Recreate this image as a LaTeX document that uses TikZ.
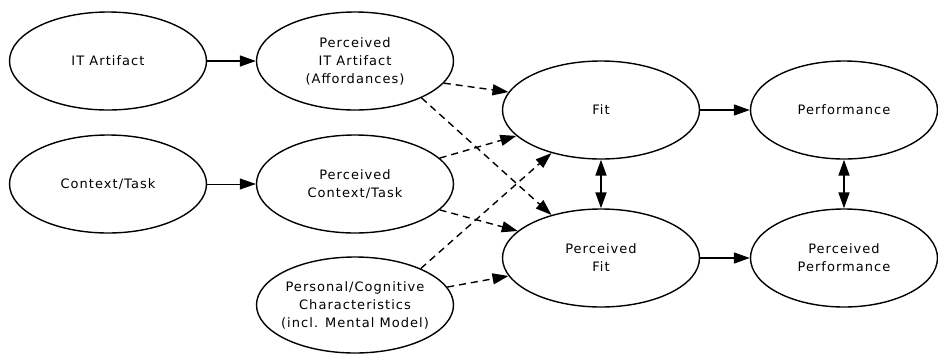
\documentclass[tikz,border=0pt]{standalone}
\usepackage{fontspec}
\setmainfont{DejaVu Sans}[LetterSpace=8]
\usetikzlibrary{arrows.meta,shapes.geometric,positioning}

\begin{document}
\begin{tikzpicture}[x=1pt, y=-1pt, on grid, node distance=123pt,
  state/.style={draw, ellipse, line width=1.4pt, minimum width=197pt, minimum height=98pt,
    inner sep=0pt, inner xsep=-8pt, align=center, font=\fontsize{13}{18}\selectfont},
  tip/.style={-{Triangle[length=16pt,width=11pt]}},
  solid link/.style={tip, line width=1.6pt},
  thin link/.style={tip, line width=0.8pt},
  dash link/.style={tip, line width=1.4pt, dash pattern=on 7pt off 5pt},
  both link/.style={{Triangle[length=16pt,width=11pt]}-{Triangle[length=16pt,width=11pt]}, line width=1.8pt}]
\useasboundingbox (0,0) rectangle (938,354);

% Sources
\node[state] (itart) at (108,61) {IT Artifact};
\node[state, below=of itart] (task) {Context/Task};

% Perceptions
\node[state, right=247pt of itart] (pitart) {Perceived\\IT Artifact\\(Affordances)};
\node[state, right=247pt of task] (ptask) {Perceived\\Context/Task};
\node[state, below=121pt of ptask, minimum height=96pt] (person) {Personal/Cognitive\\Characteristics\\(incl. Mental Model)};

% Fit
\node[state, below right=49pt and 246pt of pitart] (fit) {Fit};
\node[state, below=148pt of fit] (pfit) {Perceived\\Fit};

% Performance
\node[state, right=243pt of fit, minimum width=187pt] (perf) {Performance};
\node[state, right=243pt of pfit, minimum width=187pt] (pperf) {Perceived\\Performance};

% Arrows
\draw[solid link] (itart) -- (pitart);
\draw[thin link] (task) -- (ptask);
\draw[solid link] (fit) -- (perf);
\draw[solid link] (pfit) -- (pperf);
\draw[both link] (fit) -- (pfit);
\draw[both link] (perf) -- (pperf);

\draw[dash link] (pitart.-14) -- (fit.169);
\draw[dash link] (pitart.-29) -- (pfit.139);
\draw[dash link] (ptask.17) -- (fit.197);
\draw[dash link] (ptask.-17) -- (pfit.162);
\draw[dash link] (person.29) -- (fit.221);
\draw[dash link] (person.11) -- (pfit.191);
\end{tikzpicture}
\end{document}
